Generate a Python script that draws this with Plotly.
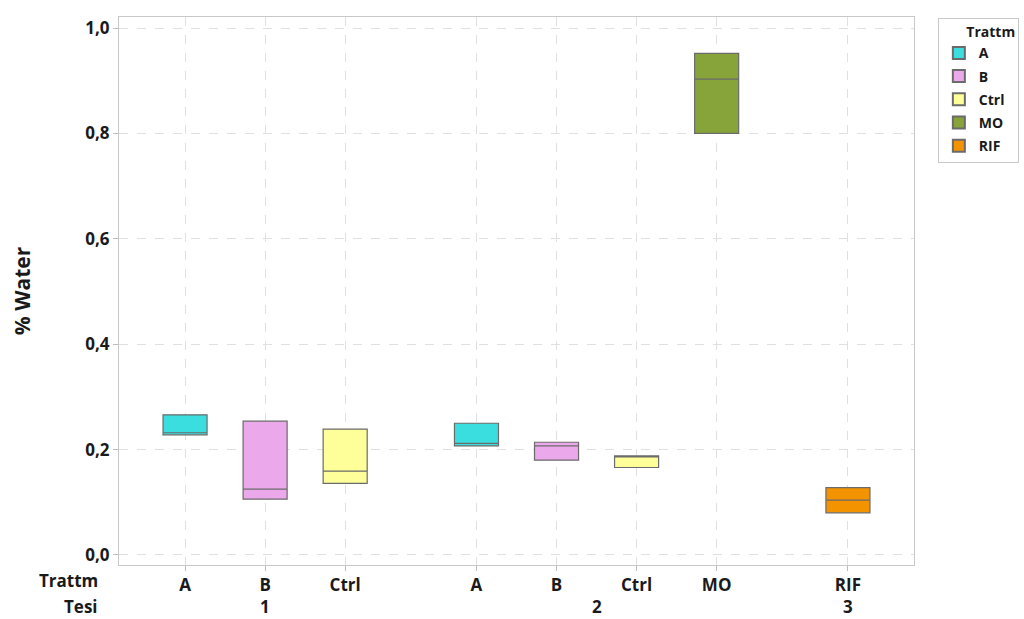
import plotly.graph_objects as go

# Treatment / trial layout along the x axis
trattm = ["A", "B", "Ctrl", "A", "B", "Ctrl", "MO", "RIF"]
tesi = ["1", "1", "1", "2", "2", "2", "2", "3"]
x_pos = [0, 1, 2, 3.64, 4.64, 5.64, 6.64, 8.28]

# Box statistics (% Water)
q1 = [0.228, 0.106, 0.136, 0.207, 0.180, 0.166, 0.800, 0.080]
median = [0.232, 0.125, 0.159, 0.212, 0.207, 0.188, 0.903, 0.104]
q3 = [0.266, 0.254, 0.239, 0.250, 0.214, 0.188, 0.952, 0.128]

colors = {"A": "#3ADEDE", "B": "#EBA8EB", "Ctrl": "#FFFF99", "MO": "#86A43A", "RIF": "#F49300"}
legend_order = ["A", "B", "Ctrl", "MO", "RIF"]

y_ticks = [0.0, 0.2, 0.4, 0.6, 0.8, 1.0]

FONT = "Open Sans"
TXT = "#1a1a1a"

fig = go.Figure()
for t in legend_order:
    idx = [i for i, v in enumerate(trattm) if v == t]
    fig.add_trace(go.Box(
        name=t,
        legendgroup=t,
        x=[x_pos[i] for i in idx],
        q1=[q1[i] for i in idx],
        median=[median[i] for i in idx],
        q3=[q3[i] for i in idx],
        lowerfence=[q1[i] for i in idx],
        upperfence=[q3[i] for i in idx],
        width=0.55,
        fillcolor=colors[t],
        line=dict(color="#6b6b6b", width=1.2),
        boxpoints=False,
        hoverinfo="skip",
    ))

# Second row of category labels (Tesi), centred under each group
annotations = []
groups = []
for g in dict.fromkeys(tesi):
    xs = [x_pos[i] for i, v in enumerate(tesi) if v == g]
    groups.append((g, (min(xs) + max(xs)) / 2))
for g, xc in groups:
    annotations.append(dict(x=xc, y=-0.075, xref="x", yref="paper", text=g, showarrow=False,
                            font=dict(family=FONT, size=17, color=TXT, weight="bold"),
                            xanchor="center", yanchor="middle"))
for label, yy in [("Trattm", -0.028), ("Tesi", -0.075)]:
    annotations.append(dict(x=-0.024, y=yy, xref="paper", yref="paper", text=label, showarrow=False,
                            font=dict(family=FONT, size=17, color=TXT, weight="bold"),
                            xanchor="right", yanchor="middle"))

fig.update_layout(
    width=1024, height=619,
    margin=dict(l=119, r=110, t=17, b=54, autoexpand=False),
    paper_bgcolor="white", plot_bgcolor="white",
    separators=", ",
    boxmode="overlay",
    showlegend=True,
    legend=dict(
        x=1.03, y=0.998, xanchor="left", yanchor="top",
        bordercolor="#c8c8c8", borderwidth=1, bgcolor="white",
        title=dict(text="&nbsp;&nbsp;&nbsp;&nbsp;&nbsp;&nbsp;&nbsp;Trattm",
                   font=dict(family=FONT, size=14, color=TXT, weight="bold")),
        font=dict(family=FONT, size=14, color=TXT, weight="bold"),
        tracegroupgap=2, itemsizing="constant",
    ),
    xaxis=dict(
        range=[-0.825, 9.105],
        tickmode="array", tickvals=x_pos, ticktext=trattm,
        tickfont=dict(family=FONT, size=17, color=TXT, weight="bold"),
        ticks="outside", ticklen=5, tickcolor="#bdbdbd",
        showgrid=True, gridcolor="#e0e0e0", griddash="dash", gridwidth=1,
        showline=True, linecolor="#c8c8c8", mirror=True, zeroline=False,
    ),
    yaxis=dict(
        range=[-0.019, 1.021],
        tickmode="array", tickvals=y_ticks, tickformat=".1f",
        tickfont=dict(family=FONT, size=17, color=TXT, weight="bold"),
        ticks="outside", ticklen=5, tickcolor="#bdbdbd",
        showgrid=True, gridcolor="#e0e0e0", griddash="dash", gridwidth=1,
        showline=True, linecolor="#c8c8c8", mirror=True, zeroline=False,
        title=dict(text="% Water", font=dict(family=FONT, size=21, color=TXT, weight="bold"), standoff=48),
    ),
    annotations=annotations,
)

fig.write_html("out.html")
